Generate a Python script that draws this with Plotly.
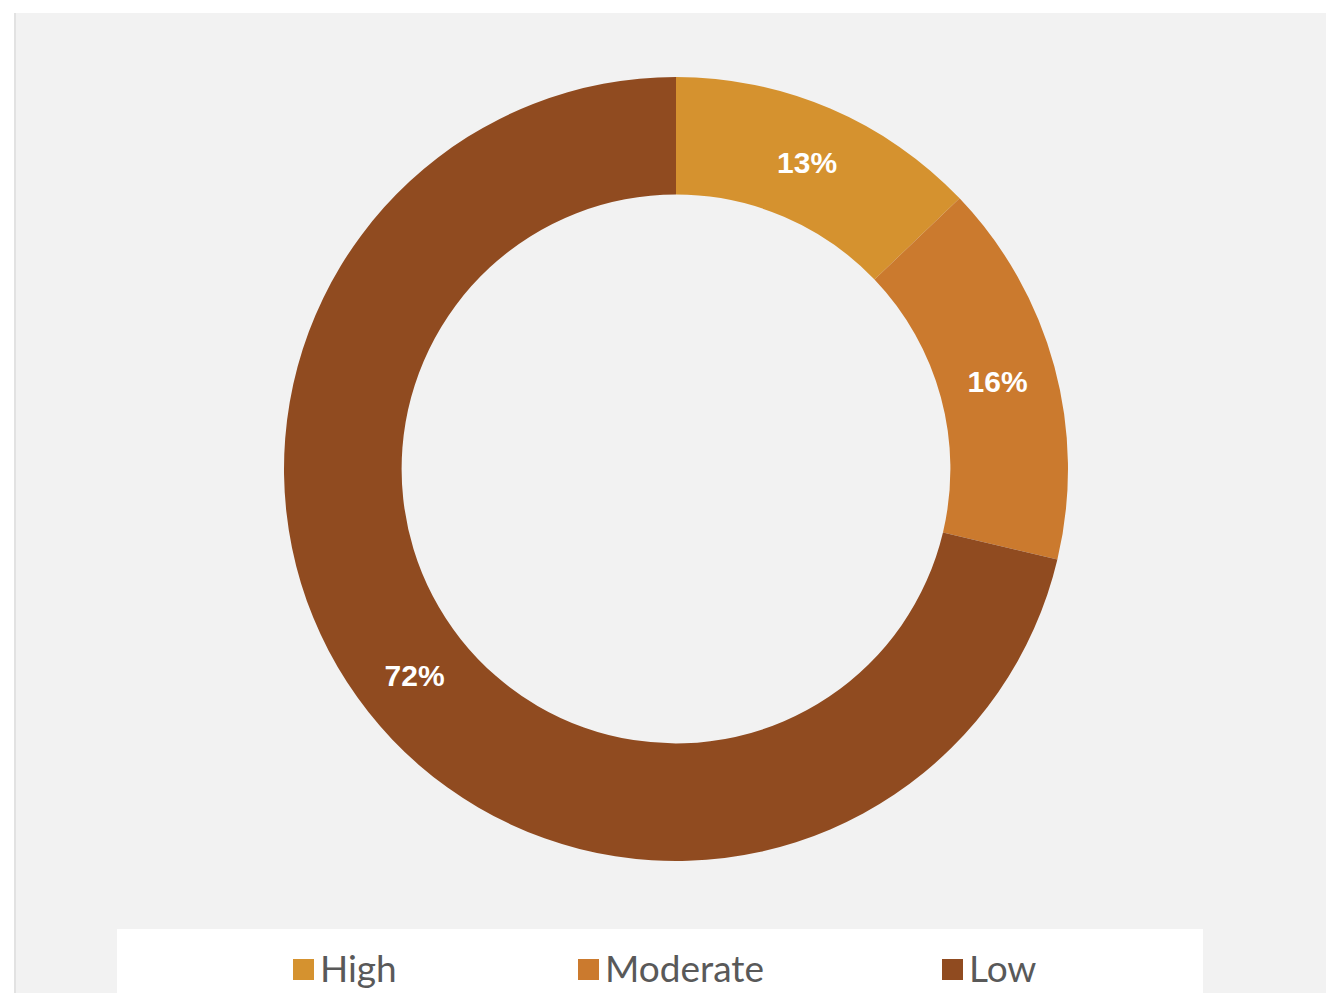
import plotly.graph_objects as go

# Share of cases by risk level
categories = ["High", "Moderate", "Low"]
shares = [13, 16, 72]
colors = ["#D5922F", "#CB7A2E", "#904B20"]

W, H = 1326, 993


def px_x(x):
    return x / W


def px_y(y):
    return 1 - y / H


fig = go.Figure()

fig.add_trace(go.Pie(
    labels=categories,
    values=shares,
    hole=0.70,
    sort=False,
    direction="clockwise",
    rotation=0,
    marker=dict(colors=colors, line=dict(width=0)),
    texttemplate="%{value}%",
    textposition="inside",
    insidetextorientation="horizontal",
    textfont=dict(family="Liberation Sans", size=30, color="white", weight="bold"),
    hoverinfo="label+percent",
    showlegend=False,
    domain=dict(x=[px_x(284), px_x(1068)], y=[px_y(861), px_y(77)]),
))

shapes = [
    # chart area panel
    dict(type="rect", xref="paper", yref="paper", layer="below",
         x0=px_x(14), x1=1, y0=0, y1=px_y(13),
         fillcolor="#F2F2F2", line=dict(width=0)),
    dict(type="line", xref="paper", yref="paper", layer="below",
         x0=px_x(15), x1=px_x(15), y0=0, y1=px_y(13),
         line=dict(color="#E2E2E2", width=2)),
    # legend panel
    dict(type="rect", xref="paper", yref="paper", layer="below",
         x0=px_x(117), x1=px_x(1203), y0=0, y1=px_y(929),
         fillcolor="#FFFFFF", line=dict(width=0)),
]

annotations = []
square_left = [293, 578, 942]
for name, col, x0 in zip(categories, colors, square_left):
    shapes.append(dict(type="rect", xref="paper", yref="paper",
                       x0=px_x(x0), x1=px_x(x0 + 21),
                       y0=px_y(980), y1=px_y(959),
                       fillcolor=col, line=dict(width=0)))
    annotations.append(dict(text=name, xref="paper", yref="paper",
                            x=px_x(x0 + 25), y=px_y(967),
                            xanchor="left", yanchor="middle", showarrow=False,
                            font=dict(family="Lato", size=37, color="#595959")))

fig.update_layout(
    width=W, height=H,
    margin=dict(l=0, r=0, t=0, b=0),
    paper_bgcolor="#FFFFFF",
    plot_bgcolor="#FFFFFF",
    shapes=shapes,
    annotations=annotations,
)

fig.write_html("out.html")
